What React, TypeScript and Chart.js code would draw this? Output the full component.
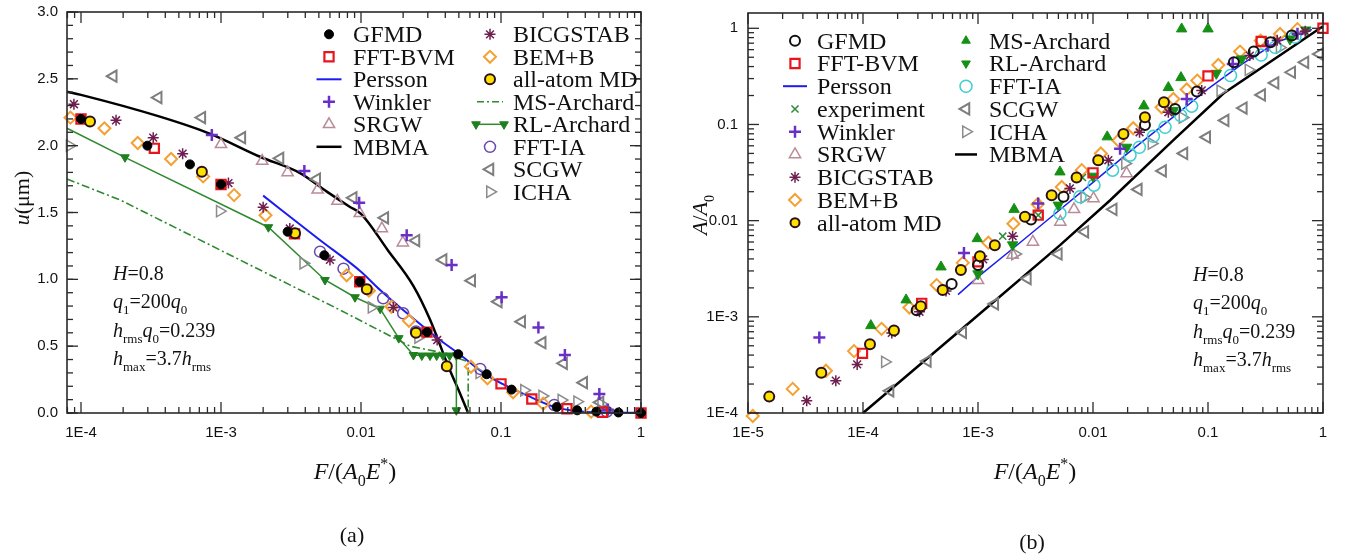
import React, { useEffect, useRef } from 'react';
import { Chart, registerables } from 'chart.js';
import { drawPoint } from 'chart.js/helpers';

Chart.register(...registerables);

type P = [number, number];

// ================= Panel (a): u (µm) vs F/(A0E*) =================
const A_GFMD: P[] = [[1e-4, 2.2], [2.98e-4, 2.0], [6.0e-4, 1.86], [1e-3, 1.71], [2.99e-3, 1.356], [5.47e-3, 1.18], [9.8e-3, 0.982], [0.0296, 0.605], [0.0495, 0.44], [0.079, 0.29], [0.119, 0.175], [0.25, 0.045], [0.35, 0.02], [0.48, 0.01], [0.69, 0.004], [1, 0]];
const A_BVM: P[] = [[1e-4, 2.2], [3.34e-4, 1.98], [1e-3, 1.71], [3.35e-3, 1.34], [9.8e-3, 0.982], [0.0296, 0.605], [0.1, 0.218], [0.166, 0.105], [0.296, 0.032], [0.53, 0.006], [1, 0]];
const A_PERSSON: P[] = [[2e-3, 1.626], [5e-3, 1.3], [0.01, 1.057], [0.0137, 0.92], [0.02, 0.77], [0.0367, 0.546], [0.0495, 0.447], [0.079, 0.284], [0.161, 0.122], [0.25, 0.04], [0.35, 0.014], [0.5, 0.005], [1, 0.002]];
const A_WINKLER: P[] = [[8.6e-4, 2.08], [3.94e-3, 1.81], [9.7e-3, 1.573], [0.0212, 1.33], [0.0444, 1.107], [0.101, 0.866], [0.185, 0.64], [0.286, 0.434], [0.504, 0.142], [0.58, 0.025]];
const A_SRGW: P[] = [[1e-3, 2.01], [1.97e-3, 1.885], [2.99e-3, 1.8], [4.9e-3, 1.67], [6.78e-3, 1.586], [9.8e-3, 1.494], [0.0141, 1.38], [0.0199, 1.274]];
const A_MBMA: P[] = [[7.943e-5, 2.404], [1e-4, 2.38], [3.66e-4, 2.217], [8.3e-4, 2.09], [1.9e-3, 1.917], [3.67e-3, 1.795], [5.7e-3, 1.656], [8.3e-3, 1.543], [0.01, 1.49], [0.0155, 1.22], [0.0237, 0.95], [0.0311, 0.7], [0.042, 0.35], [0.0509, 0.147], [0.0583, 0.0]];
const A_BICG: P[] = [[8.9e-5, 2.31], [1.78e-4, 2.19], [3.28e-4, 2.06], [5.32e-4, 1.94], [1.13e-3, 1.72], [2.0e-3, 1.54], [3.1e-3, 1.38], [6.0e-3, 1.145], [0.017, 0.79], [0.035, 0.546]];
const A_BEM: P[] = [[8.4e-5, 2.21], [1.47e-4, 2.13], [2.54e-4, 2.02], [4.4e-4, 1.9], [7.45e-4, 1.77], [1.24e-3, 1.63], [2.08e-3, 1.48], [7.9e-3, 1.03], [0.0114, 0.915], [0.0165, 0.795], [0.022, 0.69], [0.061, 0.346], [0.08, 0.26], [0.122, 0.155], [0.2, 0.07], [0.44, 0.01]];
const A_ALLATOM: P[] = [[1.16e-4, 2.18], [7.3e-4, 1.805], [3.38e-3, 1.344], [0.011, 0.925], [0.0247, 0.6], [0.041, 0.35]];
const A_MS: P[] = [[7.943e-5, 1.75], [1.9e-4, 1.594], [7.1e-3, 0.77], [0.0137, 0.615], [0.0224, 0.5], [0.035, 0.459], [0.0583, 0.384], [0.0583, 0]];
const A_RL: P[] = [[7.943e-5, 2.13], [2.06e-4, 1.913], [2.18e-3, 1.39], [5.53e-3, 0.995], [9.06e-3, 0.866], [0.0137, 0.78], [0.0186, 0.56], [0.0237, 0.434], [0.0272, 0.43], [0.0311, 0.43], [0.0347, 0.43], [0.0385, 0.43], [0.043, 0.43], [0.048, 0.43], [0.048, 0.02]];
const A_IA: P[] = [[5.1e-3, 1.207], [7.5e-3, 1.08], [0.0144, 0.858], [0.02, 0.746], [0.0247, 0.61], [0.071, 0.33], [0.24, 0.06], [0.57, 0.01]];
const A_SCGW: P[] = [[1.7e-4, 2.52], [3.56e-4, 2.36], [7.3e-4, 2.21], [1.41e-3, 2.06], [2.64e-3, 1.905], [4.83e-3, 1.75], [8.8e-3, 1.61], [0.0148, 1.46], [0.0247, 1.29], [0.0386, 1.145], [0.0618, 0.99], [0.0957, 0.833], [0.1406, 0.683], [0.197, 0.526], [0.28, 0.372], [0.39, 0.227], [0.51, 0.08]];
const A_ICHA: P[] = [[8.3e-5, 2.0], [9.8e-4, 1.51], [3.87e-3, 1.12], [0.0119, 0.79], [0.0256, 0.565], [0.07, 0.3], [0.146, 0.17], [0.197, 0.127], [0.27, 0.097], [0.35, 0.085], [0.52, 0.067]];

const A_XTICKS = [1e-4, 1e-3, 0.01, 0.1, 1];
const A_XLABELS = ['1E-4', '1E-3', '0.01', '0.1', '1'];
const A_YTICKS = [0, 0.5, 1, 1.5, 2, 2.5, 3];
const A_YLABELS = ['0.0', '0.5', '1.0', '1.5', '2.0', '2.5', '3.0'];

// ================= Panel (b): A/A0 vs F/(A0E*) =================
const B_GFMD: P[] = [[2.93e-4, 1.17e-3], [5.9e-4, 2.19e-3], [1e-3, 3.46e-3], [2.89e-3, 0.0103], [5.54e-3, 0.0177], [0.0283, 0.099], [0.0517, 0.145], [0.08, 0.22], [0.168, 0.443], [0.25, 0.573], [0.35, 0.716], [0.535, 0.84]];
const B_BVM: P[] = [[9.9e-5, 4.17e-4], [3.24e-4, 1.38e-3], [1e-3, 3.73e-3], [3.34e-3, 0.0114], [0.01, 0.0314], [0.1, 0.32], [0.29, 0.73], [1, 1]];
const B_PERSSON: P[] = [[6.7e-4, 1.7e-3], [1e-3, 2.6e-3], [2e-3, 5.1e-3], [5e-3, 0.0126], [0.01, 0.025], [0.02, 0.05], [0.05, 0.12], [0.1, 0.235], [0.2, 0.43], [0.4, 0.72], [0.8, 0.97]];
const B_EXP: P[] = [[1.64e-3, 6.9e-3], [3.34e-3, 0.0114], [8.1e-3, 0.0281]];
const B_WINKLER: P[] = [[4.17e-5, 6.1e-4], [7.55e-4, 4.6e-3], [3.34e-3, 0.0151], [0.0172, 0.056], [0.0653, 0.184], [0.164, 0.426], [0.33, 0.66], [0.6, 0.88]];
const B_SRGW: P[] = [[1e-3, 2.4e-3], [2e-3, 4.4e-3], [3e-3, 6.0e-3], [5.2e-3, 9.7e-3], [6.84e-3, 0.0131], [0.0101, 0.017], [0.0196, 0.031]];
const B_BICG: P[] = [[3.24e-5, 1.34e-4], [5.8e-5, 2.17e-4], [8.9e-5, 3.2e-4], [1.78e-4, 6.8e-4], [3.1e-4, 1.13e-3], [5.27e-4, 1.86e-3], [1.11e-3, 3.95e-3], [2.0e-3, 6.9e-3], [6.3e-3, 0.0216], [0.0136, 0.0425], [0.0254, 0.083], [0.0452, 0.134], [0.0882, 0.226], [0.231, 0.52], [0.4, 0.75], [0.7, 0.93]];
const B_BEM: P[] = [[1.1e-5, 9.3e-5], [2.45e-5, 1.78e-4], [4.76e-5, 2.75e-4], [8.35e-5, 4.4e-4], [1.45e-4, 7.5e-4], [2.53e-4, 1.25e-3], [4.37e-4, 2.14e-3], [7.37e-4, 3.64e-3], [1.23e-3, 5.9e-3], [2.03e-3, 9.3e-3], [3.3e-3, 0.0148], [5.35e-3, 0.0224], [7.98e-3, 0.0335], [0.0117, 0.0499], [0.0166, 0.068], [0.0224, 0.0914], [0.0395, 0.151], [0.05, 0.184], [0.0653, 0.231], [0.0807, 0.286], [0.123, 0.416], [0.19, 0.573], [0.287, 0.745], [0.423, 0.873], [0.6, 0.98]];
const B_ALLATOM: P[] = [[1.53e-5, 1.48e-4], [4.34e-5, 2.62e-4], [1.15e-4, 5.2e-4], [1.86e-4, 7.2e-4], [3.18e-4, 1.29e-3], [4.93e-4, 1.9e-3], [7.1e-4, 3.06e-3], [1.04e-3, 4.27e-3], [1.4e-3, 5.56e-3], [2.56e-3, 0.011], [4.37e-3, 0.0184], [7.2e-3, 0.0281], [0.0111, 0.0425], [0.0184, 0.0798], [0.0283, 0.119], [0.0414, 0.17]];
const B_MS: P[] = [[1.17e-4, 8.1e-4], [2.37e-4, 1.5e-3], [4.77e-4, 3.3e-3], [9.86e-4, 6.5e-3], [2.06e-3, 0.0131], [5.16e-3, 0.0321], [0.0133, 0.0743], [0.0277, 0.156], [0.0452, 0.242], [0.0582, 0.307], [0.059, 0.985], [0.1, 0.985]];
const B_RL: P[] = [[1e-3, 2.8e-3], [2e-3, 5.6e-3], [4.99e-3, 0.0145], [0.01, 0.029], [0.0196, 0.058], [0.05, 0.14], [0.118, 0.34], [0.196, 0.48], [0.516, 0.774], [0.71, 0.96]];
const B_IA: P[] = [[5.16e-3, 0.0119], [7.7e-3, 0.0177], [0.0102, 0.0234], [0.0148, 0.0335], [0.021, 0.048], [0.0253, 0.058], [0.0335, 0.0755], [0.0423, 0.0936], [0.0578, 0.124], [0.0721, 0.155], [0.157, 0.323], [0.29, 0.528], [0.383, 0.635], [0.57, 0.81]];
const B_SCGW: P[] = [[1.72e-4, 1.7e-4], [3.63e-4, 3.47e-4], [7.37e-4, 6.9e-4], [1.4e-3, 1.36e-3], [2.69e-3, 2.5e-3], [5e-3, 4.5e-3], [8.5e-3, 7.65e-3], [0.015, 0.0131], [0.0248, 0.0211], [0.0403, 0.0329], [0.0618, 0.05], [0.0975, 0.0737], [0.141, 0.11], [0.203, 0.148], [0.293, 0.203], [0.383, 0.27], [0.535, 0.349], [0.697, 0.443], [0.93, 0.54]];
const B_ICHA: P[] = [[1.55e-4, 3.4e-4], [2.1e-3, 4.5e-3], [8.4e-3, 0.0174], [0.019, 0.0393], [0.0323, 0.0634], [0.06, 0.118], [0.128, 0.224], [0.225, 0.37], [0.42, 0.63]];
const B_MBMA: P[] = [[1e-4, 1e-4], [1e-3, 1.04e-3], [5.2e-3, 5.6e-3], [0.0141, 0.0163], [0.05, 0.0686], [0.136, 0.21], [1, 1.05]];

const B_XTICKS = [1e-5, 1e-4, 1e-3, 0.01, 0.1, 1];
const B_XLABELS = ['1E-5', '1E-4', '1E-3', '0.01', '0.1', '1'];
const B_YTICKS = [1e-4, 1e-3, 0.01, 0.1, 1];
const B_YLABELS = ['1E-4', '1E-3', '0.01', '0.1', '1'];

// ================= styles =================
const SERIF = "'Liberation Serif', 'Times New Roman', serif";
const SANS = "'Liberation Sans', Arial, sans-serif";
const T = 'rgba(0,0,0,0)';

type MS = { ps: string; r: number; rot?: number; fill: string; stroke: string; bw: number };
const mGFMD_A: MS = { ps: 'circle', r: 4.5, fill: '#000', stroke: '#000', bw: 1 };
const mGFMD_B: MS = { ps: 'circle', r: 5, fill: T, stroke: '#111', bw: 2 };
const mBVM: MS = { ps: 'rect', r: 6.5, fill: T, stroke: '#e8161c', bw: 2.2 };
const mWINK: MS = { ps: 'cross', r: 6, fill: T, stroke: '#6a2fc6', bw: 2.5 };
const mSRGW: MS = { ps: 'triangle', r: 6.5, fill: T, stroke: '#b98c97', bw: 1.5 };
const mBICG: MS = { ps: 'star', r: 5.5, fill: T, stroke: '#6e1f4f', bw: 1.5 };
const mBEM: MS = { ps: 'rectRot', r: 6, fill: T, stroke: '#f5a032', bw: 2 };
const mAA: MS = { ps: 'circle', r: 5, fill: '#ffe100', stroke: '#2a1018', bw: 2 };
const mRL_A: MS = { ps: 'triangle', r: 5, rot: 180, fill: '#1f7f1f', stroke: '#1f7f1f', bw: 1 };
const mIA_A: MS = { ps: 'circle', r: 5.5, fill: T, stroke: '#6a48b0', bw: 1.5 };
const mSCGW: MS = { ps: 'triangle', r: 6.5, rot: -90, fill: T, stroke: '#7e7e7e', bw: 2 };
const mICHA: MS = { ps: 'triangle', r: 6.5, rot: 90, fill: T, stroke: '#8c8c8c', bw: 1.5 };
const mEXP: MS = { ps: 'crossRot', r: 5, fill: T, stroke: '#2e8b3a', bw: 1.5 };
const mMS_B: MS = { ps: 'triangle', r: 6, fill: '#159015', stroke: '#159015', bw: 1 };
const mRL_B: MS = { ps: 'triangle', r: 6, rot: 180, fill: '#159015', stroke: '#159015', bw: 1 };
const mIA_B: MS = { ps: 'circle', r: 6, fill: T, stroke: '#3fcfcf', bw: 1.5 };

const BLUE = '#1c1cf0';
const GREEN_L = '#2f8a2f';

// ================= helpers =================
const pts = (d: P[]) => d.map(([x, y]) => ({ x, y }));

function markerSet(label: string, d: P[], m: MS, extra: any = {}) {
  return {
    label, data: pts(d), showLine: false, pointStyle: m.ps, pointRadius: m.r, pointHoverRadius: m.r,
    pointRotation: m.rot || 0, pointBackgroundColor: m.fill, pointBorderColor: m.stroke,
    pointBorderWidth: m.bw, clip: false, ...extra,
  };
}
function lineSet(label: string, d: P[], color: string, width: number, dash: number[] = [], mono = false) {
  return {
    label, data: pts(d), showLine: true, borderColor: color, borderWidth: width, borderDash: dash,
    pointRadius: 0, pointHoverRadius: 0, tension: 0, cubicInterpolationMode: mono ? 'monotone' : 'default',
    clip: false, fill: false,
  };
}

type Seg = { t: string; i?: boolean; s?: 'sub' | 'sup' };
function segFont(seg: Seg, size: number) {
  const sz = seg.s ? Math.round(size * 0.65) : size;
  return `${seg.i ? 'italic ' : ''}${sz}px ${SERIF}`;
}
function drawRich(ctx: CanvasRenderingContext2D, segs: Seg[], x: number, y: number, size: number, align: 'left' | 'center' = 'left') {
  ctx.textBaseline = 'alphabetic';
  ctx.textAlign = 'left';
  let total = 0;
  const ws = segs.map((s) => { ctx.font = segFont(s, size); const w = ctx.measureText(s.t).width; total += w; return w; });
  let cx = align === 'center' ? x - total / 2 : x;
  segs.forEach((s, k) => {
    ctx.font = segFont(s, size);
    const dy = s.s === 'sub' ? size * 0.3 : s.s === 'sup' ? -size * 0.42 : 0;
    ctx.fillText(s.t, cx, y + dy);
    cx += ws[k];
  });
}
function drawMarker(ctx: CanvasRenderingContext2D, m: MS, x: number, y: number) {
  ctx.save();
  ctx.fillStyle = m.fill;
  ctx.strokeStyle = m.stroke;
  ctx.lineWidth = m.bw;
  ctx.setLineDash([]);
  drawPoint(ctx, { pointStyle: m.ps as any, rotation: m.rot || 0, radius: m.r, borderWidth: m.bw } as any, x, y);
  ctx.restore();
}

type LegItem = { label: string; m?: MS; line?: { color: string; width: number; dash?: number[]; half: number }; ends?: boolean };
type LegCol = { mx: number; tx: number; y0: number; dy: number; items: LegItem[] };

interface Panel {
  xTicks: number[]; xLabels: string[];
  yTicks: number[]; yLabels: string[]; yLog: boolean;
  xTitle: Seg[]; xTitleX: number; xTitleY: number;
  yTitle: Seg[]; yTitleX: number; yTitleY: number;
  tag: string; tagX: number; tagY: number;
  params: Seg[][]; paramX: number; paramY: number[];
  legend: LegCol[];
  yLabelRight: number; xLabelMid: number;
}

function logMinors(min: number, max: number) {
  const out: number[] = [];
  for (let e = Math.floor(Math.log10(min)); e <= Math.ceil(Math.log10(max)); e++) {
    for (let k = 2; k <= 9; k++) { const v = k * Math.pow(10, e); if (v > min * 1.0001 && v < max * 0.9999) out.push(v); }
  }
  return out;
}

function decor(P: Panel) {
  return {
    id: 'decor',
    afterDraw(chart: any) {
      const ctx: CanvasRenderingContext2D = chart.ctx;
      const a = chart.chartArea;
      const xs = chart.scales.x, ys = chart.scales.y;
      ctx.save();
      ctx.strokeStyle = '#2a2a2a';
      ctx.lineWidth = 1.3;
      const seg = (x1: number, y1: number, x2: number, y2: number) => { ctx.beginPath(); ctx.moveTo(x1, y1); ctx.lineTo(x2, y2); ctx.stroke(); };
      const MAJ = 11, MIN = 6;
      // x ticks
      const xMin = logMinors(xs.min, xs.max);
      xMin.forEach((v) => { const p = xs.getPixelForValue(v); seg(p, a.bottom, p, a.bottom - MIN); seg(p, a.top, p, a.top + MIN); });
      P.xTicks.forEach((v) => { const p = xs.getPixelForValue(v); seg(p, a.bottom, p, a.bottom - MAJ); seg(p, a.top, p, a.top + MAJ); });
      // y ticks
      let yMinor: number[] = [];
      if (P.yLog) yMinor = logMinors(ys.min, ys.max);
      else { for (let v = 0; v <= ys.max + 1e-9; v += 0.1) yMinor.push(Math.round(v * 10) / 10); }
      yMinor.forEach((v) => { const p = ys.getPixelForValue(v); seg(a.left, p, a.left + MIN, p); seg(a.right, p, a.right - MIN, p); });
      P.yTicks.forEach((v) => { const p = ys.getPixelForValue(v); seg(a.left, p, a.left + MAJ, p); seg(a.right, p, a.right - MAJ, p); });
      // frame
      ctx.lineWidth = 1.6;
      ctx.strokeRect(a.left, a.top, a.right - a.left, a.bottom - a.top);
      // tick labels
      ctx.fillStyle = '#111';
      ctx.font = `15px ${SANS}`;
      ctx.textAlign = 'center';
      ctx.textBaseline = 'middle';
      P.xTicks.forEach((v, k) => ctx.fillText(P.xLabels[k], xs.getPixelForValue(v), P.xLabelMid));
      ctx.textAlign = 'right';
      P.yTicks.forEach((v, k) => ctx.fillText(P.yLabels[k], P.yLabelRight, ys.getPixelForValue(v)));
      // titles
      drawRich(ctx, P.xTitle, P.xTitleX, P.xTitleY, 24, 'center');
      ctx.save();
      ctx.translate(P.yTitleX, P.yTitleY);
      ctx.rotate(-Math.PI / 2);
      drawRich(ctx, P.yTitle, 0, 0, 22, 'center');
      ctx.restore();
      ctx.font = `22px ${SERIF}`;
      ctx.textAlign = 'center';
      ctx.textBaseline = 'alphabetic';
      ctx.fillText(P.tag, P.tagX, P.tagY);
      // parameter annotation
      P.params.forEach((line, k) => drawRich(ctx, line, P.paramX, P.paramY[k], 20, 'left'));
      // legend
      P.legend.forEach((col) => {
        col.items.forEach((it, k) => {
          const cy = col.y0 + k * col.dy;
          if (it.line) {
            ctx.save();
            ctx.strokeStyle = it.line.color;
            ctx.lineWidth = it.line.width;
            ctx.setLineDash(it.line.dash || []);
            seg(col.mx - it.line.half, cy, col.mx + it.line.half, cy);
            ctx.restore();
          }
          if (it.m) {
            const xs2 = it.ends && it.line ? [col.mx - it.line.half, col.mx + it.line.half] : [col.mx];
            xs2.forEach((x) => drawMarker(ctx, it.m as MS, x, cy));
          }
          ctx.fillStyle = '#111';
          ctx.font = `24px ${SERIF}`;
          ctx.textAlign = 'left';
          ctx.textBaseline = 'alphabetic';
          ctx.fillText(it.label, col.tx, cy + 8);
        });
      });
      ctx.restore();
    },
  };
}

const F_TITLE: Seg[] = [{ t: 'F', i: true }, { t: '/(' }, { t: 'A', i: true }, { t: '0', s: 'sub' }, { t: 'E', i: true }, { t: '*', s: 'sup' }, { t: ')' }];
const PARAMS: Seg[][] = [
  [{ t: 'H', i: true }, { t: '=0.8' }],
  [{ t: 'q', i: true }, { t: '1', s: 'sub' }, { t: '=200' }, { t: 'q', i: true }, { t: '0', s: 'sub' }],
  [{ t: 'h', i: true }, { t: 'rms', s: 'sub' }, { t: 'q', i: true }, { t: '0', s: 'sub' }, { t: '=0.239' }],
  [{ t: 'h', i: true }, { t: 'max', s: 'sub' }, { t: '=3.7' }, { t: 'h', i: true }, { t: 'rms', s: 'sub' }],
];

const W_A = 673;
const W_B = 674;
const OFF_B = 673;

const panelA: Panel = {
  xTicks: A_XTICKS, xLabels: A_XLABELS, yTicks: A_YTICKS, yLabels: A_YLABELS, yLog: false,
  xTitle: F_TITLE, xTitleX: 355, xTitleY: 479,
  yTitle: [{ t: 'u', i: true }, { t: '(μm)' }], yTitleX: 29, yTitleY: 198,
  tag: '(a)', tagX: 352, tagY: 542,
  params: PARAMS, paramX: 113, paramY: [280, 308, 336.5, 365],
  yLabelRight: 58, xLabelMid: 433,
  legend: [
    {
      mx: 329, tx: 353, y0: 34.3, dy: 22.5, items: [
        { label: 'GFMD', m: mGFMD_A },
        { label: 'FFT-BVM', m: mBVM },
        { label: 'Persson', line: { color: BLUE, width: 2, half: 12.5 } },
        { label: 'Winkler', m: mWINK },
        { label: 'SRGW', m: mSRGW },
        { label: 'MBMA', line: { color: '#000', width: 2.5, half: 12.5 } },
      ],
    },
    {
      mx: 490, tx: 513, y0: 34.3, dy: 22.5, items: [
        { label: 'BICGSTAB', m: mBICG },
        { label: 'BEM+B', m: mBEM },
        { label: 'all-atom MD', m: mAA },
        { label: 'MS-Archard', line: { color: GREEN_L, width: 1.5, dash: [7, 3, 2, 3], half: 13 } },
        { label: 'RL-Archard', m: mRL_A, line: { color: GREEN_L, width: 1.5, half: 14 }, ends: true },
        { label: 'FFT-IA', m: mIA_A },
        { label: 'SCGW', m: mSCGW },
        { label: 'ICHA', m: mICHA },
      ],
    },
  ],
};

const panelB: Panel = {
  xTicks: B_XTICKS, xLabels: B_XLABELS, yTicks: B_YTICKS, yLabels: B_YLABELS, yLog: true,
  xTitle: F_TITLE, xTitleX: 1035 - OFF_B, xTitleY: 479,
  yTitle: [{ t: 'A', i: true }, { t: '/' }, { t: 'A', i: true }, { t: '0', s: 'sub' }], yTitleX: 707 - OFF_B, yTitleY: 215,
  tag: '(b)', tagX: 1032 - OFF_B, tagY: 549,
  params: PARAMS, paramX: 1193 - OFF_B, paramY: [281, 309, 338, 366],
  yLabelRight: 738 - OFF_B, xLabelMid: 433,
  legend: [
    {
      mx: 795 - OFF_B, tx: 817 - OFF_B, y0: 40.7, dy: 22.75, items: [
        { label: 'GFMD', m: mGFMD_B },
        { label: 'FFT-BVM', m: mBVM },
        { label: 'Persson', line: { color: BLUE, width: 2, half: 12 } },
        { label: 'experiment', m: mEXP },
        { label: 'Winkler', m: mWINK },
        { label: 'SRGW', m: mSRGW },
        { label: 'BICGSTAB', m: mBICG },
        { label: 'BEM+B', m: mBEM },
        { label: 'all-atom MD', m: { ...mAA, r: 4.5 } },
      ],
    },
    {
      mx: 966 - OFF_B, tx: 989 - OFF_B, y0: 40.7, dy: 22.75, items: [
        { label: 'MS-Archard', m: { ...mMS_B, r: 5 } },
        { label: 'RL-Archard', m: { ...mRL_B, r: 5 } },
        { label: 'FFT-IA', m: mIA_B },
        { label: 'SCGW', m: mSCGW },
        { label: 'ICHA', m: mICHA },
        { label: 'MBMA', line: { color: '#000', width: 2.5, half: 11 } },
      ],
    },
  ],
};

function configA(): any {
  return {
    type: 'scatter',
    data: {
      datasets: [
        markerSet('GFMD', A_GFMD, mGFMD_A),
        markerSet('all-atom MD', A_ALLATOM, mAA),
        markerSet('FFT-BVM', A_BVM, mBVM),
        markerSet('BICGSTAB', A_BICG, mBICG),
        markerSet('BEM+B', A_BEM, mBEM),
        markerSet('FFT-IA', A_IA, mIA_A),
        markerSet('Winkler', A_WINKLER, mWINK),
        markerSet('SRGW', A_SRGW, mSRGW),
        markerSet('SCGW', A_SCGW, mSCGW),
        markerSet('ICHA', A_ICHA, mICHA),
        {
          ...markerSet('RL-Archard', A_RL, mRL_A),
          showLine: true, borderColor: GREEN_L, borderWidth: 1.5, tension: 0,
          pointRadius: A_RL.map((_, k) => (k === 0 ? 0 : mRL_A.r)),
        },
        lineSet('MS-Archard', A_MS, GREEN_L, 1.6, [8, 3, 2, 3]),
        lineSet('Persson', A_PERSSON, BLUE, 2, [], true),
        lineSet('MBMA', A_MBMA, '#000', 2.5, [], true),
      ],
    },
    options: {
      responsive: false, animation: false, devicePixelRatio: 1, events: [],
      layout: { padding: { left: 67, right: W_A - 641, top: 12, bottom: 560 - 413 } },
      plugins: { legend: { display: false }, tooltip: { enabled: false } },
      scales: {
        x: { type: 'logarithmic', min: 7.943e-5, max: 1, display: false },
        y: { type: 'linear', min: 0, max: 3, display: false },
      },
    },
    plugins: [decor(panelA)],
  };
}

function configB(): any {
  return {
    type: 'scatter',
    data: {
      datasets: [
        markerSet('all-atom MD', B_ALLATOM, mAA),
        markerSet('GFMD', B_GFMD, mGFMD_B),
        markerSet('FFT-BVM', B_BVM, mBVM),
        markerSet('experiment', B_EXP, mEXP),
        markerSet('BICGSTAB', B_BICG, mBICG),
        markerSet('Winkler', B_WINKLER, mWINK),
        markerSet('MS-Archard', B_MS, mMS_B),
        markerSet('RL-Archard', B_RL, mRL_B),
        markerSet('BEM+B', B_BEM, mBEM),
        markerSet('FFT-IA', B_IA, mIA_B),
        markerSet('SRGW', B_SRGW, mSRGW),
        markerSet('ICHA', B_ICHA, mICHA),
        markerSet('SCGW', B_SCGW, mSCGW),
        lineSet('Persson', B_PERSSON, BLUE, 1.5),
        lineSet('MBMA', B_MBMA, '#000', 2.5),
      ],
    },
    options: {
      responsive: false, animation: false, devicePixelRatio: 1, events: [],
      layout: { padding: { left: 748 - OFF_B, right: W_B - (1323 - OFF_B), top: 13, bottom: 560 - 413 } },
      plugins: { legend: { display: false }, tooltip: { enabled: false } },
      scales: {
        x: { type: 'logarithmic', min: 1e-5, max: 1, display: false },
        y: { type: 'logarithmic', min: 1e-4, max: 1.442, display: false },
      },
    },
    plugins: [decor(panelB)],
  };
}

function ChartCanvas({ make, width, left }: { make: () => any; width: number; left: number }) {
  const ref = useRef<HTMLCanvasElement>(null);
  useEffect(() => {
    const chart = new Chart(ref.current as HTMLCanvasElement, make());
    return () => chart.destroy();
  }, []);
  return (
    <canvas
      ref={ref}
      width={width}
      height={560}
      style={{ position: 'absolute', left, top: 0, width, height: 560, display: 'block' }}
    />
  );
}

export default function App() {
  return (
    <div style={{ position: 'fixed', left: 0, top: 0, width: 1347, height: 560, background: '#fff', overflow: 'hidden' }}>
      <ChartCanvas make={configA} width={W_A} left={0} />
      <ChartCanvas make={configB} width={W_B} left={OFF_B} />
    </div>
  );
}
